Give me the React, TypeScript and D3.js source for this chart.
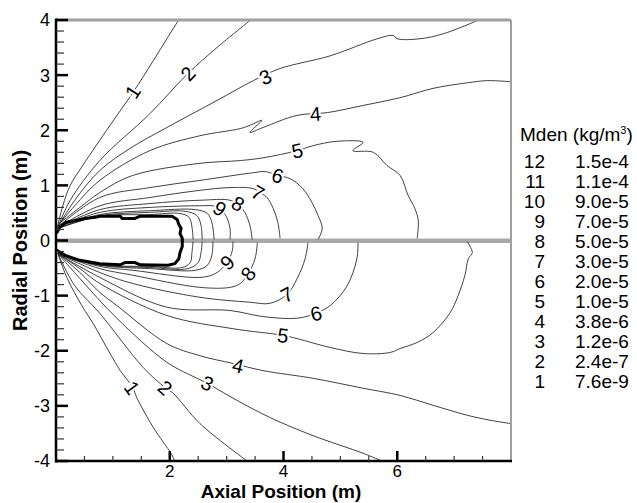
import React from "react";
import * as d3 from "d3";

const W = 637;
const H = 503;
const xDomain: [number, number] = [0, 8];
const yDomain: [number, number] = [-4, 4];
const xMajorTicks = [2, 4, 6];
const yMajorTicks = [-4, -3, -2, -1, 0, 1, 2, 3, 4];
const levels = [12, 11, 10, 9, 8, 7, 6, 5, 4, 3, 2, 1];
const levelValues = ["1.5e-4", "1.1e-4", "9.0e-5", "7.0e-5", "5.0e-5", "3.0e-5", "2.0e-5", "1.0e-5", "3.8e-6", "1.2e-6", "2.4e-7", "7.6e-9"];

// Contour lines, upper half (level 1..12), in metres
const upper1 = [[0.02, 0.22], [0.12, 0.63], [0.25, 1.0], [0.47, 1.36], [0.95, 2.09], [1.35, 2.68], [1.71, 3.26], [1.95, 3.66], [2.15, 3.99]];
const upper2 = [[0.035, 0.25], [0.25, 0.73], [0.77, 1.45], [1.65, 2.3], [2.32, 3.03], [2.83, 3.5], [3.41, 3.99]];
const upper3 = [[0.035, 0.25], [0.33, 0.73], [0.77, 1.27], [1.3, 1.67], [1.95, 2.05], [2.83, 2.54], [3.47, 2.9], [3.94, 3.12], [4.82, 3.35], [5.65, 3.66], [5.93, 3.72], [6.0, 3.66], [6.4, 3.66], [6.81, 3.75], [7.41, 3.99]];
const upper4 = [[0.035, 0.27], [0.33, 0.63], [0.77, 1.09], [1.65, 1.63], [2.53, 1.9], [3.24, 2.03], [3.41, 2.09], [3.62, 2.18], [3.41, 1.96], [3.64, 2.05], [4.24, 2.27], [4.77, 2.32], [5.4, 2.45], [6.05, 2.59], [6.63, 2.76], [7.23, 2.86], [7.58, 2.9], [8.0, 2.88]];
const upper5 = [[0.035, 0.29], [0.42, 0.6], [0.77, 0.87], [1.35, 1.18], [2.53, 1.4], [3.24, 1.45], [3.64, 1.5], [4.24, 1.63], [4.52, 1.72], [4.94, 1.8], [5.4, 1.78], [5.22, 1.63], [5.58, 1.6], [5.82, 1.36], [6.05, 1.18], [6.19, 0.82], [6.31, 0.58], [6.37, 0.36], [6.35, 0.04]];
const upper6 = [[0.035, 0.25], [0.77, 0.78], [1.65, 0.96], [2.53, 1.09], [3.47, 1.23], [3.68, 1.25], [3.9, 1.18], [4.12, 1.12], [4.34, 0.94], [4.5, 0.69], [4.61, 0.45], [4.68, 0.22], [4.61, 0.02]];
const upper7 = [[0.035, 0.24], [0.77, 0.63], [1.65, 0.78], [2.53, 0.91], [3.06, 0.96], [3.47, 0.94], [3.62, 0.85], [3.71, 0.78], [3.82, 0.58], [3.9, 0.33], [3.94, 0.04]];
const upper8 = [[0.035, 0.24], [0.77, 0.56], [1.65, 0.67], [2.53, 0.73], [3.06, 0.73], [3.2, 0.65], [3.32, 0.51], [3.41, 0.27], [3.45, 0.02]];
const upper9 = [[0.035, 0.24], [0.77, 0.51], [1.65, 0.6], [2.53, 0.63], [2.8, 0.62], [2.92, 0.54], [3.01, 0.4], [3.06, 0.22], [3.06, 0.02]];
const upper10 = [[0.035, 0.22], [0.77, 0.47], [1.65, 0.54], [2.45, 0.56], [2.66, 0.49], [2.74, 0.33], [2.78, 0.02]];
const upper11 = [[0.035, 0.22], [0.77, 0.45], [1.65, 0.51], [2.27, 0.53], [2.48, 0.45], [2.55, 0.27], [2.57, 0.02]];
const upper12 = [[0.035, 0.22], [0.77, 0.44], [1.65, 0.47], [2.18, 0.49], [2.34, 0.42], [2.39, 0.25], [2.41, 0.02]];

// Contour lines, lower half
const lower1 = [[0.035, -0.24], [0.19, -0.67], [0.47, -1.21], [0.65, -1.5], [0.95, -2.05], [1.13, -2.36], [1.35, -2.67], [1.42, -2.85], [1.71, -3.39], [1.95, -3.75], [2.01, -3.84], [2.09, -4.0]];
const lower2 = [[0.035, -0.24], [0.33, -0.82], [0.77, -1.32], [1.53, -2.3], [1.92, -2.67], [2.06, -2.77], [2.53, -3.32], [3.36, -4.0]];
const lower3 = [[0.035, -0.24], [0.42, -0.69], [1.07, -1.41], [1.95, -2.21], [2.48, -2.5], [2.66, -2.59], [3.06, -2.83], [3.76, -3.21], [4.52, -3.54], [5.4, -3.86], [5.73, -4.0]];
const lower4 = [[0.035, -0.24], [0.42, -0.58], [0.77, -0.94], [1.07, -1.18], [1.95, -1.87], [2.53, -2.09], [3.11, -2.23], [3.64, -2.36], [4.52, -2.5], [5.4, -2.68], [6.05, -2.81], [6.63, -2.99], [7.23, -3.17], [7.63, -3.26], [7.99, -3.32]];
const lower5 = [[0.035, -0.24], [0.42, -0.51], [0.77, -0.78], [1.95, -1.36], [3.11, -1.6], [3.99, -1.72], [4.24, -1.78], [4.82, -1.94], [5.4, -2.05], [5.88, -2.03], [6.05, -1.96], [6.35, -1.85], [6.63, -1.67], [6.93, -1.31], [7.07, -1.0], [7.19, -0.63], [7.25, -0.33], [7.32, -0.22], [7.23, -0.02]];
const lower6 = [[0.035, -0.24], [0.77, -0.67], [1.95, -1.21], [3.06, -1.27], [3.64, -1.38], [4.24, -1.41], [4.57, -1.32], [4.82, -1.18], [5.12, -0.82], [5.29, -0.33], [5.31, -0.04]];
const lower7 = [[0.035, -0.24], [0.77, -0.58], [1.35, -0.78], [2.53, -1.03], [3.41, -1.12], [3.76, -1.14], [4.06, -0.98], [4.24, -0.69], [4.38, -0.33], [4.43, -0.04]];
const lower8 = [[0.035, -0.24], [0.77, -0.51], [1.35, -0.63], [2.53, -0.85], [3.06, -0.85], [3.24, -0.78], [3.38, -0.6], [3.5, -0.33], [3.54, -0.04]];
const lower9 = [[0.035, -0.24], [0.77, -0.47], [1.35, -0.54], [2.53, -0.67], [2.8, -0.6], [3.01, -0.4], [3.1, -0.18], [3.11, -0.02]];
const lower10 = [[0.035, -0.24], [0.77, -0.45], [1.65, -0.51], [2.45, -0.54], [2.66, -0.45], [2.74, -0.27], [2.76, -0.02]];
const lower11 = [[0.035, -0.24], [0.77, -0.44], [1.65, -0.49], [2.32, -0.51], [2.5, -0.4], [2.55, -0.22], [2.57, -0.02]];
const lower12 = [[0.035, -0.24], [0.77, -0.44], [1.65, -0.47], [2.22, -0.49], [2.36, -0.4], [2.39, -0.22], [2.41, -0.02]];

// Body (thick) outlines
const bodyUpper = [[0.02, 0.15], [0.07, 0.25], [0.18, 0.33], [0.33, 0.36], [0.51, 0.4], [0.69, 0.42], [0.77, 0.44], [1.13, 0.44], [1.16, 0.4], [1.39, 0.4], [1.48, 0.44], [2.04, 0.44], [2.13, 0.38], [2.16, 0.29], [2.2, 0.22], [2.18, 0.13], [2.22, 0.04], [2.22, 0]];
const bodyLower = [[0.02, -0.18], [0.16, -0.27], [0.42, -0.36], [0.77, -0.42], [1.13, -0.44], [1.21, -0.4], [1.39, -0.4], [1.48, -0.44], [1.97, -0.45], [2.09, -0.42], [2.16, -0.33], [2.18, -0.22], [2.22, -0.11], [2.22, 0]];

const upperLines = [upper1, upper2, upper3, upper4, upper5, upper6, upper7, upper8, upper9, upper10, upper11, upper12];
const lowerLines = [lower1, lower2, lower3, lower4, lower5, lower6, lower7, lower8, lower9, lower10, lower11, lower12];

// Contour labels: level, half, position
const labelLevels = [1, 2, 3, 4, 5, 6, 7, 8, 9, 1, 2, 3, 4, 5, 6, 7, 8, 9];
const labelHalves = ["u", "u", "u", "u", "u", "u", "u", "u", "u", "l", "l", "l", "l", "l", "l", "l", "l", "l"];
const labelPos = [
  [1.35, 2.7], [2.32, 3.03], [3.68, 2.97], [4.56, 2.3], [4.24, 1.63], [3.9, 1.18], [3.55, 0.87], [3.2, 0.67], [2.88, 0.58],
  [1.34, -2.67], [1.92, -2.67], [2.66, -2.59], [3.2, -2.27], [3.99, -1.72], [4.57, -1.32], [4.06, -0.98], [3.38, -0.6], [3.01, -0.4],
];

const FONT = "'Liberation Sans', Arial, Helvetica, sans-serif";

export default function App() {
  const x = d3.scaleLinear().domain(xDomain).range([56, 511]);
  const y = d3.scaleLinear().domain(yDomain).range([461, 20]);
  const line = d3.line<number[]>().x((d) => x(d[0])).y((d) => y(d[1])).curve(d3.curveCatmullRom.alpha(0.5));
  const lineLin = d3.line<number[]>().x((d) => x(d[0])).y((d) => y(d[1]));

  const xMinor = d3.range(0.5, 8, 0.5).filter((v) => Math.abs(v - Math.round(v / 2) * 2) > 1e-6);
  const yMinor = d3.range(-3.8, 4, 0.2).filter((v) => Math.abs(v - Math.round(v)) > 1e-6);

  const labels = labelLevels.map((lv, i) => {
    const pts = (labelHalves[i] === "u" ? upperLines : lowerLines)[lv - 1];
    const px = x(labelPos[i][0]);
    const py = y(labelPos[i][1]);
    let best = 1e9;
    let ang = 0;
    for (let k = 0; k < pts.length - 1; k++) {
      const ax = x(pts[k][0]), ay = y(pts[k][1]);
      const bx = x(pts[k + 1][0]), by = y(pts[k + 1][1]);
      const dx = bx - ax, dy = by - ay;
      const L = dx * dx + dy * dy || 1;
      let t = ((px - ax) * dx + (py - ay) * dy) / L;
      t = Math.max(0, Math.min(1, t));
      const qx = ax + t * dx, qy = ay + t * dy;
      const dd = (qx - px) ** 2 + (qy - py) ** 2;
      if (dd < best) {
        best = dd;
        ang = (Math.atan2(dy, dx) * 180) / Math.PI;
      }
    }
    if (ang > 90) ang -= 180;
    if (ang < -90) ang += 180;
    return { lv, px, py, ang };
  });

  return (
    <div style={{ position: "absolute", left: 0, top: 0 }}>
      <svg width={W} height={H} viewBox={`0 0 ${W} ${H}`} style={{ display: "block", background: "#fff" }}>
        <rect x={0} y={0} width={W} height={H} fill="#fff" />
        {/* symmetry axis band */}
        <rect x={x(0) + 1} y={y(0) - 2} width={x(8) - x(0) - 1} height={4.5} fill="#a9a9a9" />
        {/* contour lines */}
        <g fill="none" stroke="#2b2b2b" strokeWidth={0.9} strokeLinejoin="round">
          {upperLines.map((pts, i) => (
            <path key={"u" + i} d={line(pts as any) || ""} />
          ))}
          {lowerLines.map((pts, i) => (
            <path key={"l" + i} d={line(pts as any) || ""} />
          ))}
        </g>
        {/* body outline */}
        <g fill="none" stroke="#000" strokeWidth={3} strokeLinejoin="round" strokeLinecap="round">
          <path d={lineLin(bodyUpper as any) || ""} />
          <path d={lineLin(bodyLower as any) || ""} />
        </g>
        {/* contour labels */}
        <g fontFamily={FONT} fontSize={20} textAnchor="middle">
          {labels.map((l, i) => (
            <text
              key={i}
              transform={`translate(${l.px},${l.py}) rotate(${l.ang})`}
              dy="0.36em"
              fill="#000"
              stroke="#fff"
              strokeWidth={4}
              paintOrder="stroke"
            >
              {l.lv}
            </text>
          ))}
        </g>
        {/* frame */}
        <line x1={x(0)} x2={x(8)} y1={y(4)} y2={y(4)} stroke="#a0a0a0" strokeWidth={3} />
        <line x1={x(8)} x2={x(8)} y1={y(4)} y2={y(-4)} stroke="#a0a0a0" strokeWidth={2} />
        <line x1={x(0)} x2={x(0)} y1={y(4) - 1.5} y2={y(-4) + 1.5} stroke="#000" strokeWidth={2.5} />
        <line x1={x(0) - 1} x2={x(8) + 1} y1={y(-4)} y2={y(-4)} stroke="#000" strokeWidth={2.5} />
        {/* y ticks */}
        {yMinor.map((v, i) => (
          <line key={"ym" + i} x1={x(0)} x2={x(0) + 8} y1={y(v)} y2={y(v)} stroke="#333" strokeWidth={1.2} />
        ))}
        {yMajorTicks.map((v) => (
          <line key={"yM" + v} x1={x(0)} x2={x(0) + 12} y1={y(v)} y2={y(v)} stroke="#000" strokeWidth={2.5} />
        ))}
        {/* x ticks */}
        {xMinor.map((v, i) => (
          <line key={"xm" + i} x1={x(v)} x2={x(v)} y1={y(-4)} y2={y(-4) - 5} stroke="#333" strokeWidth={1.2} />
        ))}
        {xMajorTicks.map((v) => (
          <line key={"xM" + v} x1={x(v)} x2={x(v)} y1={y(-4)} y2={y(-4) - 10} stroke="#000" strokeWidth={2.5} />
        ))}
        {/* tick labels */}
        <g fontFamily={FONT} fontSize={18} fill="#000">
          {yMajorTicks.map((v) => (
            <text key={"yl" + v} x={50} y={y(v)} dy="0.36em" textAnchor="end">
              {v}
            </text>
          ))}
        </g>
        <g fontFamily={FONT} fontSize={17} fill="#000">
          {xMajorTicks.map((v) => (
            <text key={"xl" + v} x={x(v)} y={477} textAnchor="middle">
              {v}
            </text>
          ))}
        </g>
        {/* axis titles */}
        <text x={281} y={498} textAnchor="middle" fontFamily={FONT} fontWeight="bold" fontSize={19}>
          Axial Position (m)
        </text>
        <text
          transform={`translate(27,${y(0)}) rotate(-90)`}
          textAnchor="middle"
          fontFamily={FONT}
          fontWeight="bold"
          fontSize={20}
        >
          Radial Position (m)
        </text>
        {/* legend */}
        <g fontFamily={FONT} fontSize={19} fill="#000">
          <text x={520} y={141}>
            Mden (kg/m<tspan dy={-7} fontSize={11}>3</tspan>
            <tspan dy={7}>)</tspan>
          </text>
          {levels.map((lv, i) => (
            <g key={"lg" + lv}>
              <text x={545} y={168 + i * 20} textAnchor="end">
                {lv}
              </text>
              <text x={575} y={168 + i * 20}>
                {levelValues[i]}
              </text>
            </g>
          ))}
        </g>
      </svg>
    </div>
  );
}
